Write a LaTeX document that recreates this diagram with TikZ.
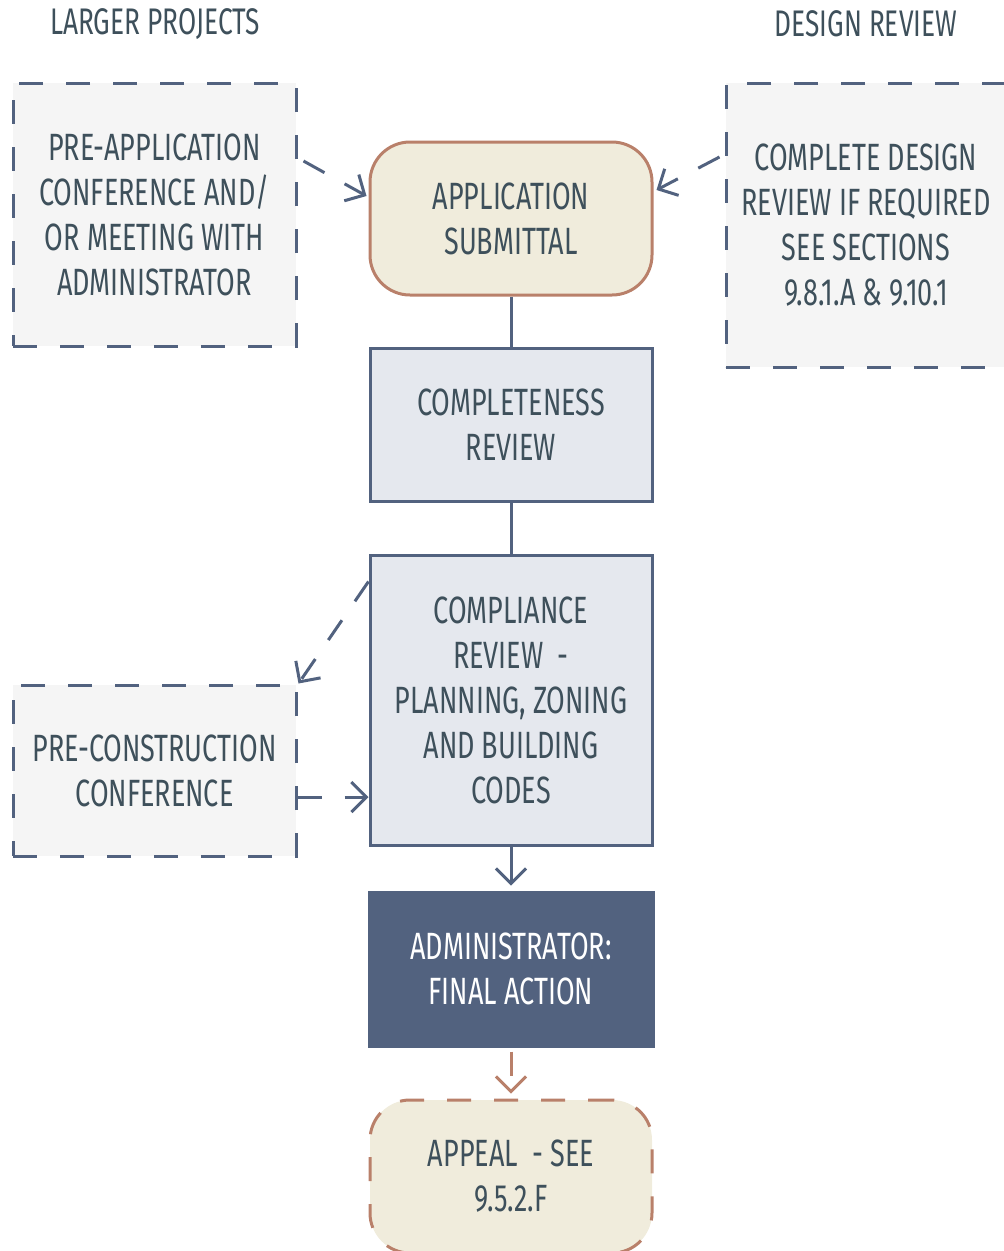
\documentclass[tikz,border=0pt]{standalone}
\usepackage{fontspec}
\setmainfont{Fira Sans}[FakeStretch=0.71]
\usetikzlibrary{arrows.meta}

\definecolor{slate}{HTML}{52627F}
\definecolor{ink}{HTML}{3E505B}
\definecolor{clay}{HTML}{B9806A}
\definecolor{cream}{HTML}{F0ECDC}
\definecolor{mist}{HTML}{F5F5F5}
\definecolor{frost}{HTML}{E5E8EE}

\tikzset{
  box/.style={draw=slate, line width=3pt, text=ink, align=center, inner sep=0pt,
    font=\fontsize{38}{45}\selectfont},
  dashbox/.style={box, fill=mist, dash pattern=on 24pt off 23pt},
  stepbox/.style={box, fill=frost, minimum width=282pt},
  roundbox/.style={box, draw=clay, fill=cream, rounded corners=40pt,
    minimum width=282pt, minimum height=153pt},
  heading/.style={text=ink, font=\fontsize{37}{42}\selectfont},
  barb/.style={-{Straight Barb[length=15pt,width=30pt,line width=3pt]}},
  link/.style={draw=slate, line width=3pt},
  dashlink/.style={link, dash pattern=on 24pt off 23pt}
}

\begin{document}
\begin{tikzpicture}[x=1pt,y=-1pt]
\useasboundingbox (0,0) rectangle (1004,1251);

% headings
\node[heading] (larger) at (155,24) {LARGER PROJECTS};
\node[heading] (design) at (866,24) {DESIGN REVIEW};

% side boxes
\node[dashbox, minimum width=283pt, minimum height=263pt] (preapp) at (154.5,214.5)
  {PRE-APPLICATION\\CONFERENCE AND/\\OR MEETING WITH\\ADMINISTRATOR};
\node[dashbox, minimum width=280pt, minimum height=284pt] (designrev) at (866,225)
  {COMPLETE DESIGN\\REVIEW IF REQUIRED\\SEE SECTIONS\\9.8.1.A \& 9.10.1};
\node[dashbox, minimum width=283pt, minimum height=171pt] (precon) at (154.5,770.5)
  {PRE-CONSTRUCTION\\CONFERENCE};

% main column
\node[roundbox] (submittal) at (511,218.5) {APPLICATION\\SUBMITTAL};
\node[stepbox, minimum height=153pt] (complete) at (511,424.5) {COMPLETENESS\\REVIEW};
\node[stepbox, minimum height=290pt] (comply) at (511,700)
  {COMPLIANCE\\REVIEW\ \ -\\PLANNING, ZONING\\AND BUILDING\\CODES};
\node[box, fill=slate, text=white, minimum width=284pt, minimum height=154pt] (admin) at (511,969)
  {ADMINISTRATOR:\\FINAL ACTION};
\node[roundbox, dash pattern=on 24pt off 23pt] (appeal) at (511,1176.5) {APPEAL\ \ - SEE\\9.5.2.F};

% connectors
\draw[link] (submittal.south) -- (complete.north);
\draw[link] (complete.south) -- (comply.north);
\draw[link, barb, shorten >=5pt] (comply.south) -- (admin.north);
\draw[dashlink, draw=clay, barb, shorten <=4pt, shorten >=5pt] (admin.south) -- (appeal.north);

\draw[dashlink, barb] ([xshift=6pt,yshift=53.5pt]preapp.east) -- ([xshift=-2pt,yshift=22.5pt]submittal.west);
\draw[dashlink, barb] ([xshift=-5pt,yshift=68pt]designrev.west) -- ([xshift=3pt,yshift=28.5pt]submittal.east);
\draw[dashlink, barb] ([yshift=-28pt]comply.north west) -- ([xshift=1pt]precon.north east);
\draw[dashlink, barb] ([yshift=-26.5pt]precon.east) -- ([yshift=-97pt]comply.west);
\end{tikzpicture}
\end{document}
